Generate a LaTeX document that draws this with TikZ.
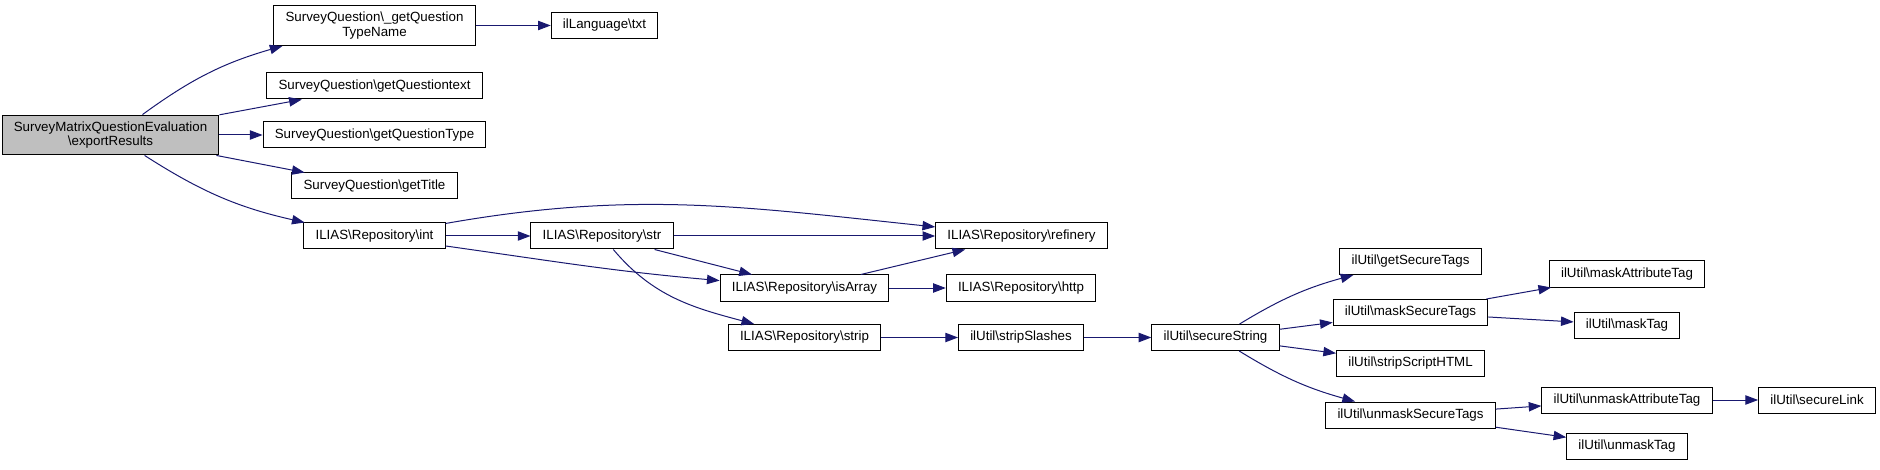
\documentclass[tikz,border=0pt]{standalone}
\usepackage{fontspec}
\setmainfont{Liberation Sans}
\usepackage{tikz}
\usetikzlibrary{arrows.meta,positioning}
\definecolor{edgeblue}{HTML}{191970}
\definecolor{selgray}{HTML}{BFBFBF}
\newcommand{\bsl}{\textbackslash}
\tikzset{
  callgraph/.style={x=0.75pt,y=0.75pt,
    font=\fontsize{10}{11}\selectfont,
    >={Triangle[length=9.5pt,width=7pt]}},
  fn/.style={rectangle,draw=black,line width=0.75pt,fill=white,
    inner xsep=8.8pt,inner ysep=4.8pt,minimum height=19.5pt,align=center},
  current/.style={fn,fill=selgray},
  calls/.style={->,draw=edgeblue,line width=0.75pt}
}
\begin{document}
\begin{tikzpicture}[callgraph]
  \useasboundingbox (0,0) rectangle (1880,-470);
  \node[current] (export) at (110.5,-135) {SurveyMatrixQuestionEvaluation\\\bsl exportResults};
  \node[fn] (typename) at (374.5,-25.5) {SurveyQuestion\bsl\_getQuestion\\TypeName};
  \node[fn] (txt) at (604.5,-25.5) {ilLanguage\bsl txt};
  \node[fn] (qtext) at (374.5,-86) {SurveyQuestion\bsl getQuestiontext};
  \node[fn] (qtype) at (374.5,-135) {SurveyQuestion\bsl getQuestionType};
  \node[fn] (title) at (374.5,-186) {SurveyQuestion\bsl getTitle};
  \node[fn] (int) at (374.5,-236) {ILIAS\bsl Repository\bsl int};
  \node[fn] (str) at (602,-236) {ILIAS\bsl Repository\bsl str};
  \node[fn] (refinery) at (1021.5,-236) {ILIAS\bsl Repository\bsl refinery};
  \node[fn] (isarray) at (804.5,-288) {ILIAS\bsl Repository\bsl isArray};
  \node[fn] (http) at (1021,-288) {ILIAS\bsl Repository\bsl http};
  \node[fn] (strip) at (804.5,-337.5) {ILIAS\bsl Repository\bsl strip};
  \node[fn] (slashes) at (1021,-337.5) {ilUtil\bsl stripSlashes};
  \node[fn] (securestr) at (1215.5,-337.5) {ilUtil\bsl secureString};
  \node[fn] (gettags) at (1410.5,-261.5) {ilUtil\bsl getSecureTags};
  \node[fn] (masktags) at (1410.5,-312.5) {ilUtil\bsl maskSecureTags};
  \node[fn] (scripthtml) at (1410.5,-363) {ilUtil\bsl stripScriptHTML};
  \node[fn] (unmasktags) at (1410.5,-415) {ilUtil\bsl unmaskSecureTags};
  \node[fn] (maskattr) at (1627,-274) {ilUtil\bsl maskAttributeTag};
  \node[fn] (masktag) at (1627,-325) {ilUtil\bsl maskTag};
  \node[fn] (unmaskattr) at (1627,-400) {ilUtil\bsl unmaskAttributeTag};
  \node[fn] (unmasktag) at (1627,-446) {ilUtil\bsl unmaskTag};
  \node[fn] (securelink) at (1817,-400) {ilUtil\bsl secureLink};
  % calls
  \draw[calls] (export) to[bend left=10] (typename);
  \draw[calls] (export) to (qtext);
  \draw[calls] (export) to (qtype);
  \draw[calls] (export) to (title);
  \draw[calls] (export) to[bend right=10] (int);
  \draw[calls] (typename) to (txt);
  \draw[calls] (int) to (str);
  \draw[calls] (int) to[out=10,in=174] (refinery);
  \draw[calls] (int) to[out=-8,in=175] (isarray);
  \draw[calls] (str) to (refinery);
  \draw[calls] (str) to (isarray);
  \draw[calls] (str) to[out=-50,in=165] (strip);
  \draw[calls] (isarray) to (refinery);
  \draw[calls] (isarray) to (http);
  \draw[calls] (strip) to (slashes);
  \draw[calls] (slashes) to (securestr);
  \draw[calls] (securestr) to[bend left=8] (gettags);
  \draw[calls] (securestr) to (masktags);
  \draw[calls] (securestr) to (scripthtml);
  \draw[calls] (securestr) to[bend right=8] (unmasktags);
  \draw[calls] (masktags) to (maskattr);
  \draw[calls] (masktags) to (masktag);
  \draw[calls] (unmasktags) to (unmaskattr);
  \draw[calls] (unmasktags) to (unmasktag);
  \draw[calls] (unmaskattr) to (securelink);
\end{tikzpicture}
\end{document}
